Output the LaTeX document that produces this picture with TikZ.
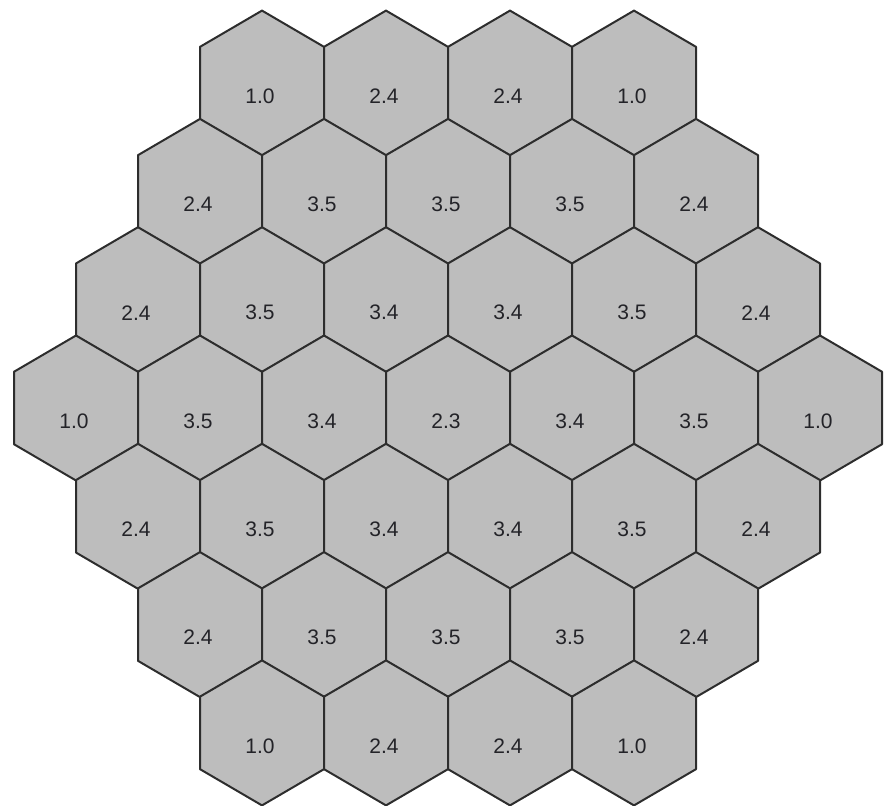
\documentclass[tikz,border=0pt]{standalone}
\usepackage{fontspec}
\setmainfont{Liberation Sans}
\definecolor{hexfill}{RGB}{189,189,189}
\definecolor{hexline}{RGB}{45,45,45}
\definecolor{hextext}{RGB}{35,35,40}
\tikzset{
  hexcell/.style={fill=hexfill, draw=hexline, line width=2pt, line join=round},
  hexlabel/.style={font=\fontsize{21}{21}\selectfont, text=hextext, inner sep=0pt}
}
\begin{document}
\begin{tikzpicture}[x=1pt,y=-1pt]
\useasboundingbox (0,0) rectangle (884,806);
\foreach \r/\n/\vals in {
  1/4/{1.0,2.4,2.4,1.0},
  2/5/{2.4,3.5,3.5,3.5,2.4},
  3/6/{2.4,3.5,3.4,3.4,3.5,2.4},
  4/7/{1.0,3.5,3.4,2.3,3.4,3.5,1.0},
  5/6/{2.4,3.5,3.4,3.4,3.5,2.4},
  6/5/{2.4,3.5,3.5,3.5,2.4},
  7/4/{1.0,2.4,2.4,1.0}} {
  \foreach \v [count=\i] in \vals {
    \pgfmathsetmacro\cx{448-(\n-1)*62+(\i-1)*124}
    \pgfmathsetmacro\cy{408+(\r-4)*108.3}
    \draw[hexcell] (\cx,\cy-72.5) -- (\cx+62,\cy-36.25) -- (\cx+62,\cy+36.25)
      -- (\cx,\cy+72.5) -- (\cx-62,\cy+36.25) -- (\cx-62,\cy-36.25) -- cycle;
    \node[hexlabel] (c\r-\i) at (\cx-2,\cy+13) {\v};
  }
}
\end{tikzpicture}
\end{document}
